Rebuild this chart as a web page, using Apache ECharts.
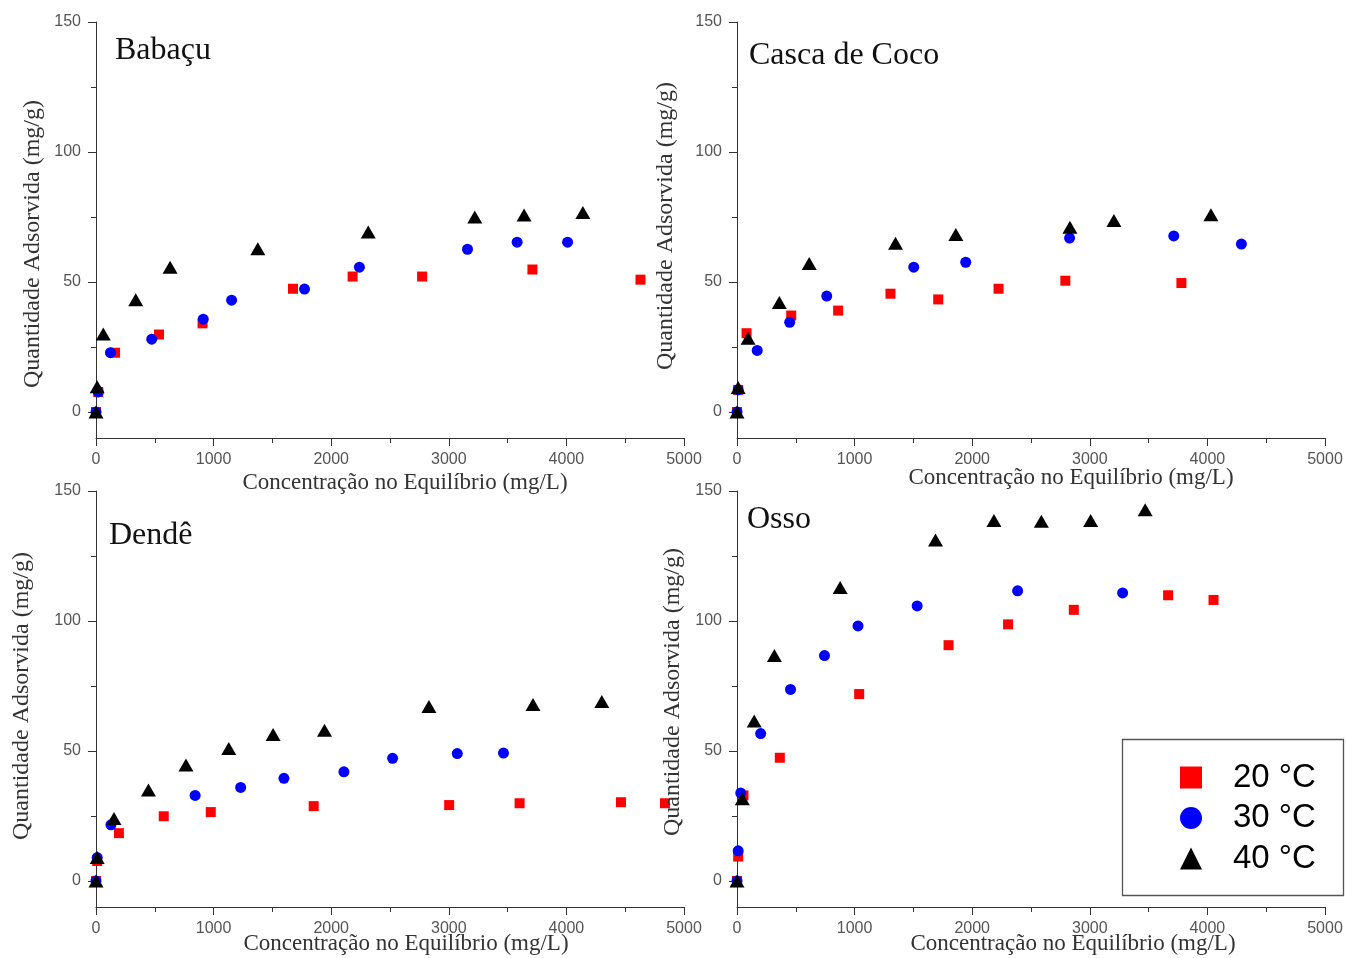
<!DOCTYPE html>
<html><head><meta charset="utf-8">
<script src="https://cdn.jsdelivr.net/npm/echarts@6/dist/echarts.min.js"></script>
<style>html,body{margin:0;padding:0;background:#fff}#c{width:1346px;height:958px}</style>
</head><body><div id="c"></div>
<script>
// ---- data ----
const panelTitles = ['Babaçu', 'Casca de Coco', 'Dendê', 'Osso'];
const seriesNames = ['20 °C', '30 °C', '40 °C'];
const xTickLabels = [0, 1000, 2000, 3000, 4000, 5000];
const yTickLabels = [0, 50, 100, 150];
const yMinorTicks = [25, 75, 125];

const babacu20X = [0, 19, 162, 536, 906, 1675, 2182, 2773, 3711, 4630];
const babacu20Y = [0, 7.7, 22.8, 29.8, 34.1, 47.4, 52.1, 52.1, 54.8, 50.9];
const babacu30X = [0, 19, 123, 474, 912, 1153, 1773, 2240, 3159, 3581, 4010];
const babacu30Y = [0, 7.7, 22.8, 28.0, 35.7, 43.0, 47.3, 55.7, 62.6, 65.3, 65.3];
const babacu40X = [0, 10, 62, 338, 630, 1376, 2315, 3221, 3640, 4140];
const babacu40Y = [0, 9.7, 30.0, 43.2, 55.7, 62.8, 69.2, 75.0, 75.8, 76.7];

const coco20X = [0, 10, 81, 461, 860, 1305, 1711, 2224, 2792, 3779];
const coco20Y = [0, 8.5, 30.3, 37.1, 39.0, 45.5, 43.3, 47.4, 50.5, 49.6];
const coco30X = [0, 10, 172, 448, 763, 1503, 1945, 2828, 3714, 4289];
const coco30Y = [0, 8.5, 23.7, 34.5, 44.6, 55.7, 57.6, 66.9, 67.7, 64.6];
const coco40X = [0, 10, 94, 360, 614, 1348, 1861, 2831, 3205, 4030];
const coco40Y = [0, 9.4, 28.4, 42.1, 57.1, 64.9, 68.3, 71.1, 73.7, 75.9];

const dende20X = [0, 10, 195, 576, 976, 1851, 3003, 3602, 4464, 4838];
const dende20Y = [0, 7.7, 18.4, 24.9, 26.5, 28.8, 29.2, 29.9, 30.3, 29.9];
const dende30X = [0, 10, 127, 843, 1230, 1598, 2108, 2522, 3072, 3465];
const dende30Y = [0, 9, 21.6, 32.9, 36.0, 39.5, 42.0, 47.2, 49.0, 49.2];
const dende40X = [0, 10, 153, 446, 765, 1129, 1506, 1943, 2831, 3716, 4301];
const dende40Y = [0, 9, 24.0, 35.0, 44.6, 51.0, 56.3, 58.0, 67.1, 67.9, 69.0];

const osso20X = [0, 10, 55, 364, 1039, 1799, 2305, 2864, 3666, 4052];
const osso20Y = [0, 9.4, 32.9, 47.4, 71.9, 90.7, 98.7, 104.3, 109.9, 108.1];
const osso30X = [0, 10, 32, 201, 455, 744, 1029, 1532, 2386, 3279];
const osso30Y = [0, 11.6, 33.8, 56.7, 73.7, 86.7, 98.1, 105.8, 111.6, 110.8];
const osso40X = [0, 45, 146, 318, 877, 1688, 2185, 2588, 3007, 3471];
const osso40Y = [0, 31.6, 61.5, 86.7, 112.9, 131.2, 138.7, 138.4, 138.7, 142.8];

const panelData = [
  [[babacu20X, babacu20Y], [babacu30X, babacu30Y], [babacu40X, babacu40Y]],
  [[coco20X, coco20Y], [coco30X, coco30Y], [coco40X, coco40Y]],
  [[dende20X, dende20Y], [dende30X, dende30Y], [dende40X, dende40Y]],
  [[osso20X, osso20Y], [osso30X, osso30Y], [osso40X, osso40Y]]
];

// ---- layout / style ----
const gridPos = [
  {left: 96, top: 22}, {left: 737, top: 22},
  {left: 96, top: 491}, {left: 737, top: 491}
];
const GW = 588, GH = 416;
const symbols = ['rect', 'circle', 'triangle'];
const symSizes = [10, 11, [15, 13]];
const colors = ['#ff0000', '#0000ff', '#000000'];
const axisColor = '#333';
const labelColor = '#555';
const sans = 'Liberation Sans, Arial, sans-serif';

const grid = [], xAxis = [], yAxis = [], series = [];
gridPos.forEach((g, i) => {
  grid.push({left: g.left, top: g.top, width: GW, height: GH, containLabel: false});
  xAxis.push({
    type: 'value', gridIndex: i, min: 0, max: 5000, interval: 1000,
    axisLine: {show: true, onZero: false, lineStyle: {color: axisColor, width: 1}},
    axisTick: {show: true, inside: false, length: 8, lineStyle: {color: axisColor}},
    minorTick: {show: true, splitNumber: 2, length: 5, lineStyle: {color: axisColor}},
    axisLabel: {color: labelColor, fontFamily: sans, fontSize: 16, margin: 14,
      customValues: xTickLabels, formatter: v => String(v)},
    splitLine: {show: false}
  });
  yAxis.push({
    type: 'value', gridIndex: i, min: -10, max: 150, position: 'left',
    axisLine: {show: true, onZero: false, lineStyle: {color: axisColor, width: 1}},
    axisTick: {show: true, inside: false, length: 8, customValues: yTickLabels, lineStyle: {color: axisColor}},
    axisLabel: {color: labelColor, fontFamily: sans, fontSize: 16, margin: 15,
      customValues: yTickLabels, formatter: v => String(v)},
    splitLine: {show: false}
  });
  yAxis.push({
    type: 'value', gridIndex: i, min: -10, max: 150, position: 'left', offset: 0,
    axisLine: {show: false},
    axisTick: {show: true, inside: false, length: 5, customValues: yMinorTicks, lineStyle: {color: axisColor}},
    axisLabel: {show: false, customValues: yMinorTicks},
    splitLine: {show: false}
  });
  panelData[i].forEach((pair, k) => {
    const xs = pair[0], ys = pair[1];
    series.push({
      type: 'scatter', name: seriesNames[k], xAxisIndex: i, yAxisIndex: i * 2,
      symbol: symbols[k], symbolSize: symSizes[k],
      itemStyle: {color: colors[k], opacity: 1},
      z: 2 + k,
      data: xs.map((x, j) => [x, ys[j]])
    });
  });
});

const serif = 'Liberation Serif, Times New Roman, serif';
const titlePos = [[115, 51], [749, 56], [109, 536], [747, 520]];
const xNamePos = [[405, 483], [1071, 478], [406, 944], [1073, 944]];
const yNamePos = [[33, 244], [666, 226], [22, 696], [673, 692]];
const graphic = [];
panelTitles.forEach((t, i) => {
  graphic.push({type: 'text', x: titlePos[i][0], y: titlePos[i][1], z: 10,
    style: {text: t, font: '32px ' + serif, fill: '#111', align: 'left', verticalAlign: 'middle'}});
  graphic.push({type: 'text', x: xNamePos[i][0], y: xNamePos[i][1], z: 10,
    style: {text: 'Concentração no Equilíbrio (mg/L)', font: '23px ' + serif, fill: '#333',
      align: 'center', verticalAlign: 'middle'}});
  graphic.push({type: 'text', x: yNamePos[i][0], y: yNamePos[i][1], rotation: Math.PI / 2, z: 10,
    style: {text: 'Quantidade Adsorvida (mg/g)', font: '24px ' + serif, fill: '#333',
      align: 'center', verticalAlign: 'middle'}});
});
graphic.push({type: 'rect', shape: {x: 1122.5, y: 739.5, width: 221, height: 156}, z: 5,
  style: {fill: '#fff', stroke: '#555', lineWidth: 1.3}});

const option = {
  animation: false,
  backgroundColor: '#fff',
  grid, xAxis, yAxis, series, graphic,
  legend: {
    show: true, orient: 'vertical', left: 1175, top: 756, z: 20,
    data: seriesNames, itemWidth: 22, itemHeight: 22, itemGap: 7.5,
    textStyle: {fontFamily: sans, fontSize: 33, color: '#000', lineHeight: 31,
      padding: [0, 0, 0, 26]},
    selectedMode: false
  }
};
const chart = echarts.init(document.getElementById('c'), null, {renderer: 'canvas'});
chart.setOption(option);
</script></body></html>
